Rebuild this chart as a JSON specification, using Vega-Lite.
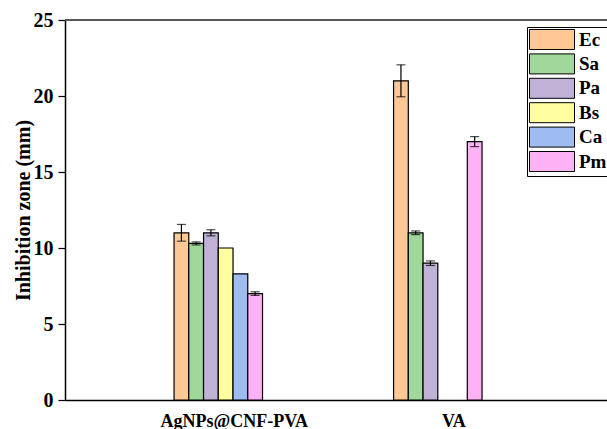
{
  "$schema": "https://vega.github.io/schema/vega-lite/v6.json",
  "width": 542,
  "height": 380,
  "autosize": {"type": "none"},
  "padding": {"left": 65, "top": 20, "right": 0, "bottom": 29},
  "background": "white",
  "config": {
    "view": {"stroke": null},
    "font": "Liberation Serif"
  },
  "data": {
    "values": [
      {"sample": "AgNPs@CNF-PVA", "strain": "Ec", "zone": 11.0, "sd": 0.55},
      {"sample": "AgNPs@CNF-PVA", "strain": "Sa", "zone": 10.3, "sd": 0.1},
      {"sample": "AgNPs@CNF-PVA", "strain": "Pa", "zone": 11.0, "sd": 0.2},
      {"sample": "AgNPs@CNF-PVA", "strain": "Bs", "zone": 10.0, "sd": 0},
      {"sample": "AgNPs@CNF-PVA", "strain": "Ca", "zone": 8.3, "sd": 0},
      {"sample": "AgNPs@CNF-PVA", "strain": "Pm", "zone": 7.0, "sd": 0.12},
      {"sample": "VA", "strain": "Ec", "zone": 21.0, "sd": 1.05},
      {"sample": "VA", "strain": "Sa", "zone": 11.0, "sd": 0.12},
      {"sample": "VA", "strain": "Pa", "zone": 9.0, "sd": 0.15},
      {"sample": "VA", "strain": "Pm", "zone": 17.0, "sd": 0.33}
    ]
  },
  "layer": [
    {
      "mark": {"type": "bar", "stroke": "black", "strokeWidth": 1.2},
      "encoding": {
        "x": {
          "field": "sample",
          "type": "nominal",
          "sort": null,
          "scale": {"domain": ["AgNPs@CNF-PVA", "VA"], "paddingInner": 0.597, "paddingOuter": 0.533, "align": 0.466},
          "axis": {
            "title": null,
            "labelAngle": 0,
            "ticks": false,
            "labelFont": "Liberation Serif",
            "labelFontWeight": "bold",
            "labelFontSize": 18,
            "labelColor": "black",
            "labelOffset": 16,
            "labelPadding": 12,
            "domainColor": "black",
            "domainWidth": 1.5
          }
        },
        "xOffset": {"field": "strain", "type": "nominal", "scale": {"domain": ["Ec", "Sa", "Pa", "Bs", "Ca", "Pm"]}},
        "y": {
          "field": "zone",
          "type": "quantitative",
          "scale": {"domain": [0, 25], "nice": false},
          "axis": {
            "title": "Inhibition zone (mm)",
            "titleFont": "Liberation Serif",
            "titleFontWeight": "bold",
            "titleFontSize": 20,
            "titleColor": "black",
            "titleX": -36,
            "titleBaseline": "alphabetic",
            "values": [0, 2.5, 5, 7.5, 10, 12.5, 15, 17.5, 20, 22.5, 25],
            "labelExpr": "datum.value % 5 === 0 ? datum.label : ''",
            "labelFont": "Liberation Serif",
            "labelFontWeight": "bold",
            "labelFontSize": 20,
            "labelColor": "black",
            "labelPadding": 5,
            "tickSize": {"condition": {"test": "datum.value % 5 === 0", "value": 7}, "value": 4},
            "tickColor": "black",
            "tickWidth": 1.2,
            "domainColor": "black",
            "domainWidth": 1.5,
            "grid": false
          }
        },
        "fill": {
          "field": "strain",
          "type": "nominal",
          "scale": {
            "domain": ["Ec", "Sa", "Pa", "Bs", "Ca", "Pm"],
            "range": ["#FDC896", "#A0D89B", "#BFB2D6", "#FFFFA0", "#9EBCF0", "#FCB2F5"]
          },
          "legend": {
            "orient": "none",
            "legendX": 462,
            "legendY": 7,
            "title": null,
            "symbolType": "M-1,-1H3.5V1H-1Z",
            "symbolSize": 400,
            "symbolStrokeColor": "black",
            "symbolStrokeWidth": 1,
            "symbolOpacity": 1,
            "labelFont": "Liberation Serif",
            "labelFontWeight": "bold",
            "labelFontSize": 19,
            "labelColor": "black",
            "labelOffset": 29,
            "strokeColor": "black",
            "fillColor": "white",
            "padding": 2,
            "rowPadding": -0.6
          }
        }
      }
    },
    {
      "transform": [{"filter": "datum.sd > 0"}],
      "mark": {"type": "errorbar", "ticks": {"size": 9}, "color": "black", "thickness": 1.2},
      "encoding": {
        "x": {"field": "sample", "type": "nominal", "sort": null},
        "xOffset": {"field": "strain", "type": "nominal"},
        "y": {"field": "zone", "type": "quantitative", "title": "Inhibition zone (mm)"},
        "yError": {"field": "sd"}
      }
    },
    {
      "mark": {"type": "rule", "color": "#555555", "strokeWidth": 2},
      "encoding": {"y": {"datum": 25}}
    }
  ]
}
